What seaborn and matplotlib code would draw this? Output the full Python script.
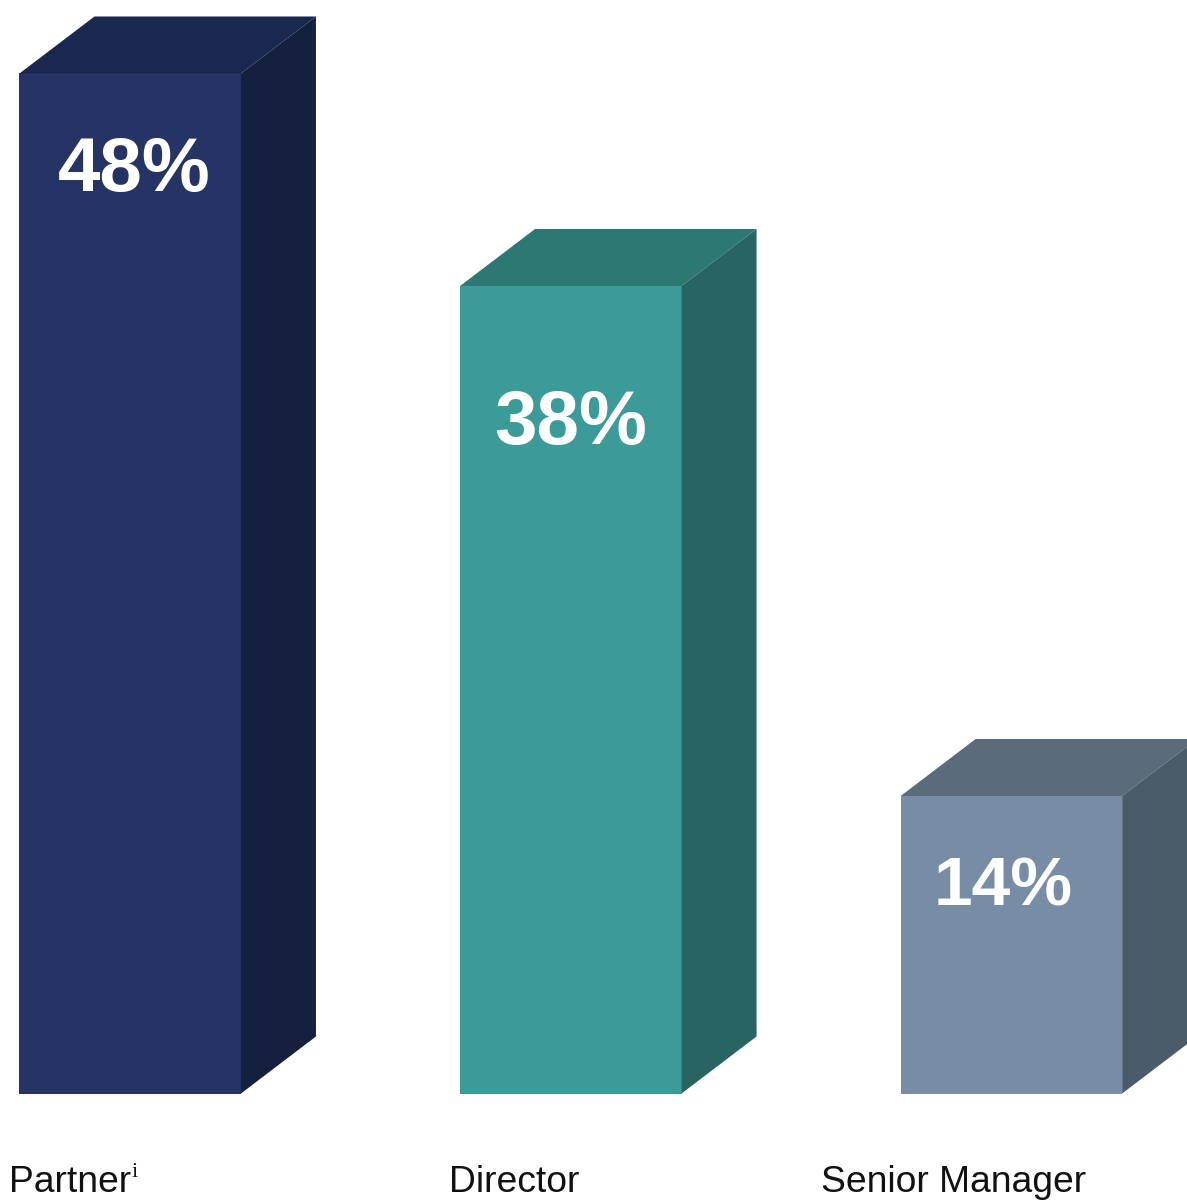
import matplotlib
matplotlib.use("Agg")
import matplotlib.pyplot as plt
from matplotlib.patches import Polygon
import pandas as pd
import seaborn as sns

# Share of respondents by seniority
categories = ["Partner", "Director", "Senior Manager"]
shares = [48, 38, 14]
value_labels = ["48%", "38%", "14%"]

front_colors = ["#253365", "#3A9B99", "#778CA5"]
top_colors = ["#1A2850", "#2C7872", "#5A6B7C"]
side_colors = ["#15203F", "#276462", "#4A5B6A"]

W, H = 1187, 1201
PX_PER_UNIT = 21.25
PX_PER_CAT = 440.6
BASE_PX = 1093.5
FIRST_CENTER_PX = 130.2
DEPTH_X = 75 / PX_PER_CAT
DEPTH_Y = 57 / PX_PER_UNIT

sns.set_theme(style="white")
plt.rcParams["font.family"] = ["Liberation Sans", "DejaVu Sans"]

fig = plt.figure(figsize=(W / 100, H / 100), dpi=100)
ax = fig.add_axes([0, 0, 1, 1])

df = pd.DataFrame({"category": categories, "share": shares})
sns.barplot(data=df, x="category", y="share", hue="category",
            palette=front_colors, width=221.5 / PX_PER_CAT, legend=False,
            saturation=1, linewidth=0, edgecolor="none", ax=ax)

ax.set_xlim(-FIRST_CENTER_PX / PX_PER_CAT, (W - FIRST_CENTER_PX) / PX_PER_CAT)
ax.set_ylim(-(H - BASE_PX) / PX_PER_UNIT, BASE_PX / PX_PER_UNIT)
ax.axis("off")

# Extrude each bar into a box: a top face and a right-hand side face
for bar, top_c, side_c in zip(ax.patches, top_colors, side_colors):
    x0, w, h = bar.get_x(), bar.get_width(), bar.get_height()
    x1 = x0 + w
    ax.add_patch(Polygon([(x0, h), (x1, h), (x1 + DEPTH_X, h + DEPTH_Y),
                          (x0 + DEPTH_X, h + DEPTH_Y)], closed=True,
                         facecolor=top_c, edgecolor="none", clip_on=True))
    ax.add_patch(Polygon([(x1, 0), (x1 + DEPTH_X, DEPTH_Y),
                          (x1 + DEPTH_X, h + DEPTH_Y), (x1, h)], closed=True,
                         facecolor=side_c, edgecolor="none", clip_on=True))

# Value labels, placed by pixel position within the figure
def to_fig(px, py):
    return px / W, 1 - py / H

label_px = [(134, 171), (571, 425), (1003, 888)]
label_sizes = [55, 55, 50]
for text, (px, py), size in zip(value_labels, label_px, label_sizes):
    fx, fy = to_fig(px, py)
    fig.text(fx, fy, text, color="white", fontsize=size, fontweight="bold",
             ha="center", va="center")

# Category captions, left-aligned beneath the bars
caption_px = [9, 449, 821]
for text, px in zip(categories, caption_px):
    fx, fy = to_fig(px, 1192)
    fig.text(fx, fy, text, color="#111111", fontsize=26.8, ha="left", va="baseline")

fx, fy = to_fig(132, 1177)
fig.text(fx, fy, "i", color="#111111", fontsize=16, family="Liberation Serif",
         ha="left", va="baseline")

fig.savefig("out.png", dpi=100)
